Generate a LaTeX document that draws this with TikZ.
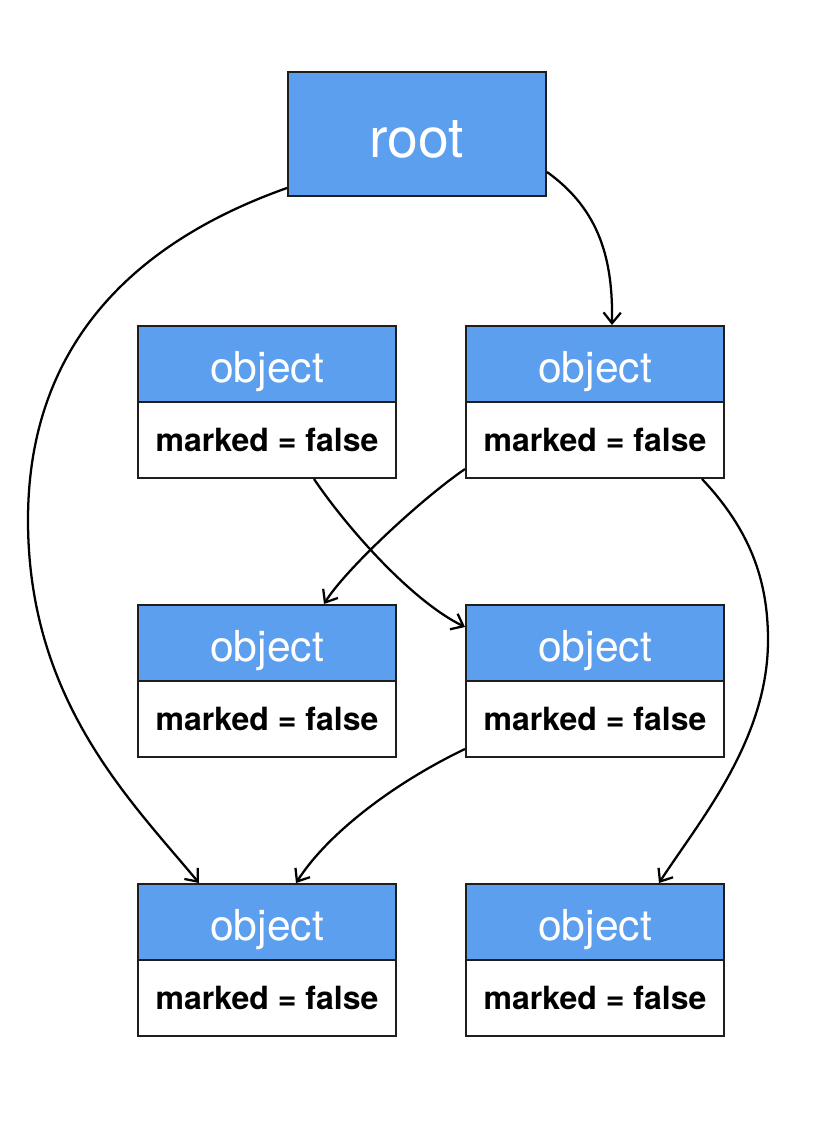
\documentclass[tikz,border=0pt]{standalone}
\usepackage{fontspec}
\setmainfont{TeX Gyre Heros}
\usetikzlibrary{arrows.meta,calc}
\definecolor{hdrblue}{RGB}{92,159,238}
\definecolor{edgegray}{RGB}{30,30,30}
\begin{document}
\begin{tikzpicture}[x=0.75pt,y=-0.75pt,
  rootbox/.style={draw=edgegray,line width=1.5pt,fill=hdrblue,text=white,
    minimum width=193.5pt,minimum height=93pt,inner sep=0pt,
    text height=34.9pt,text depth=0pt,
    font=\fontsize{41.5}{46}\selectfont},
  hdrbox/.style={draw=edgegray,line width=1.5pt,fill=hdrblue,text=white,
    minimum width=193.5pt,minimum height=57pt,inner sep=0pt,
    text height=27.5pt,text depth=0pt,
    font=\fontsize{32}{36}\selectfont},
  bodybox/.style={draw=edgegray,line width=1.5pt,fill=white,text=black,
    minimum width=193.5pt,minimum height=57pt,inner sep=0pt,
    font=\fontsize{24}{28}\selectfont\bfseries},
  link/.style={draw=black,line width=1.7pt,
    -{Straight Barb[length=8pt,width=13pt,line width=1.7pt]}}]
\useasboundingbox (0,0) rectangle (826,1126);
\node[rootbox] (root) at (417,134) {root};
\node[hdrbox] (o1h) at (267,364) {object};
\node[bodybox] (o1b) at (267,440) {marked = false};
\node[hdrbox] (o2h) at (595,364) {object};
\node[bodybox] (o2b) at (595,440) {marked = false};
\node[hdrbox] (o3h) at (267,643) {object};
\node[bodybox] (o3b) at (267,719) {marked = false};
\node[hdrbox] (o4h) at (595,643) {object};
\node[bodybox] (o4b) at (595,719) {marked = false};
\node[hdrbox] (o5h) at (267,922) {object};
\node[bodybox] (o5b) at (267,998) {marked = false};
\node[hdrbox] (o6h) at (595,922) {object};
\node[bodybox] (o6b) at (595,998) {marked = false};
\draw[link] ($(root.south west)+(0,-9)$) .. controls (140,240) and (28,340) .. (28,520)
  .. controls (28,700) and (130,800) .. ($(o5h.north west)+(62,0)$);
\draw[link] ($(root.east)+(0,38)$) .. controls (600,210) and (613,260) .. ($(o2h.north west)+(147,0)$);
\draw[link] ($(o1b.south west)+(177,0)$) .. controls (345,525) and (410,600) .. ($(o4h.north west)+(0,23)$);
\draw[link] ($(o2b.south west)+(0,-10)$) .. controls (420,500) and (345,570) .. ($(o3h.north west)+(187,0)$);
\draw[link] ($(o2b.south west)+(237,0)$) .. controls (750,530) and (768,580) .. (768,640)
  .. controls (768,740) and (700,820) .. ($(o6h.north west)+(194,0)$);
\draw[link] ($(o4b.south west)+(0,-9)$) .. controls (400,780) and (330,830) .. ($(o5h.north west)+(159,0)$);
\end{tikzpicture}
\end{document}
